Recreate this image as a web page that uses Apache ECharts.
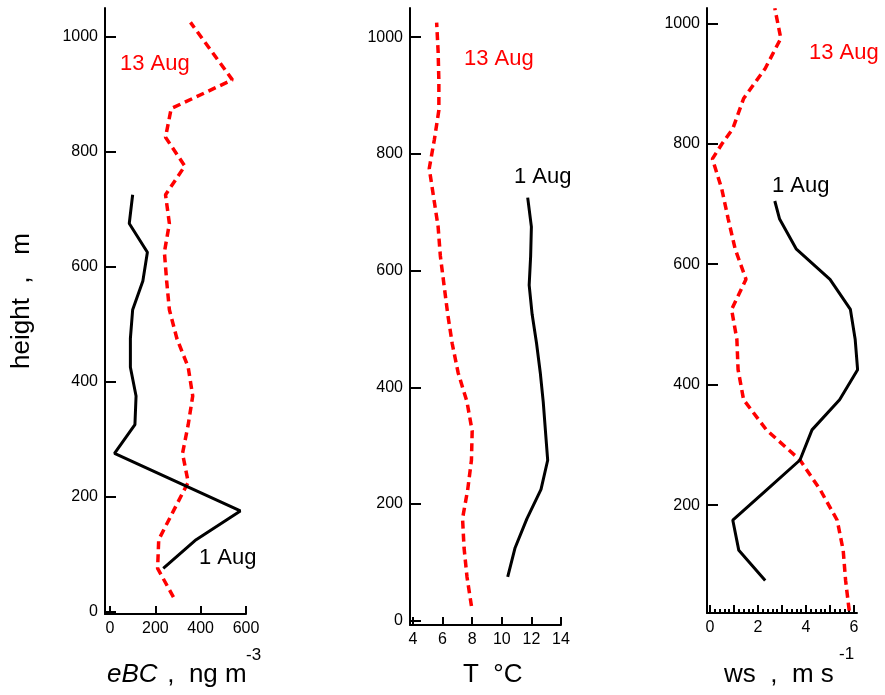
<!DOCTYPE html>
<html>
<head>
<meta charset="utf-8">
<script src="https://cdn.jsdelivr.net/npm/echarts@6/dist/echarts.min.js"></script>
<style>
html,body{margin:0;padding:0;background:#fff;}
#chart{width:885px;height:695px;}
</style>
</head>
<body>
<div id="chart"></div>
<script>
// ---- data ----
const heightTicks = [0, 200, 400, 600, 800, 1000];
const heightTicksWs = [200, 400, 600, 800, 1000];
const ebcTicks = [0, 200, 400, 600];
const tTicks = [4, 6, 8, 10, 12, 14];
const wsLabelTicks = [0, 2, 4, 6];
const wsMajorTicks = [0, 1, 2, 3, 4, 5, 6];
const wsMinorTicks = [0.2,0.4,0.6,0.8,1.2,1.4,1.6,1.8,2.2,2.4,2.6,2.8,3.2,3.4,3.6,3.8,4.2,4.4,4.6,4.8,5.2,5.4,5.6,5.8];

// eBC, ng m-3
const hEbcAug1 = [75,125,175,275,325,375,425,475,525,575,625,675,725];
const ebcAug1  = [235,380,575,20,110,115,90,90,100,145,165,85,100];
const hEbcAug13 = [25,75,125,175,225,275,325,375,425,475,525,575,625,675,725,775,825,875,925,1025];
const ebcAug13  = [280,210,215,280,345,320,345,365,345,295,262,250,240,262,245,330,245,270,540,355];

// T, °C
const hTAug1 = [75,125,175,225,275,325,375,425,475,525,575,625,675,725];
const tAug1  = [10.4,10.9,11.7,12.65,13.1,12.95,12.8,12.6,12.35,12.05,11.85,11.95,12.0,11.75];
const hTAug13 = [25,75,125,175,225,275,325,375,425,475,525,575,625,675,725,775,825,875,925,975,1025];
const tAug13  = [7.95,7.65,7.45,7.35,7.7,7.95,8.0,7.65,7.05,6.65,6.35,6.1,5.85,5.7,5.4,5.1,5.45,5.75,5.75,5.7,5.6];

// ws, m s-1
const hWsAug1 = [75,125,175,225,275,325,375,425,475,525,575,625,675,705];
const wsAug1  = [2.3,1.2,0.95,2.35,3.75,4.25,5.4,6.15,6.05,5.85,5.0,3.6,2.9,2.7];
const hWsAug13 = [25,75,125,175,225,275,325,375,425,475,525,575,625,675,725,775,800,825,875,925,975,1025];
const wsAug13  = [5.8,5.65,5.55,5.3,4.6,3.75,2.35,1.4,1.17,1.12,0.9,1.5,1.05,0.76,0.49,0.1,0.5,0.95,1.4,2.3,2.95,2.7];

// ---- chart ----
const FONT = 'Liberation Sans';
const pairs = (xs, hs) => xs.map((v, i) => [v, hs[i]]);
const plain = v => String(v);

function yAxis(gi, min, max, ticks) {
  return {
    type: 'value', gridIndex: gi, min: min, max: max,
    axisLine: {show: true, onZero: false, lineStyle: {color: '#000', width: 2}},
    axisTick: {show: true, inside: true, length: 11, customValues: ticks, lineStyle: {color: '#000', width: 2}},
    axisLabel: {show: true, customValues: ticks, formatter: plain, margin: 7, color: '#000', fontFamily: FONT, fontSize: 16},
    splitLine: {show: false}
  };
}
function xAxis(gi, min, max, ticks, labels, len) {
  return {
    type: 'value', gridIndex: gi, min: min, max: max, position: 'bottom',
    axisLine: {show: true, onZero: false, lineStyle: {color: '#000', width: 2}},
    axisTick: {show: true, inside: true, length: len, customValues: ticks, lineStyle: {color: '#000', width: 2}},
    axisLabel: {show: !!labels, customValues: labels || [], formatter: plain, margin: 7, color: '#000', fontFamily: FONT, fontSize: 16},
    splitLine: {show: false}
  };
}
const solid = {color: '#000', width: 3, type: 'solid'};
const dashed = {color: '#ff0000', width: 3.5, type: [8, 5]};
function line(xi, yi, data, style) {
  return {type: 'line', xAxisIndex: xi, yAxisIndex: yi, data: data, symbol: 'none', smooth: false,
          lineStyle: style, itemStyle: {color: style.color}, animation: false, silent: true, z: style.color === '#000' ? 3 : 2};
}

const opt = {
  backgroundColor: '#fff',
  animation: false,
  grid: [
    {left: 105, top: 8, width: 141, height: 606},
    {left: 410, top: 8, width: 151, height: 617},
    {left: 707, top: 8, width: 150, height: 605}
  ],
  xAxis: [
    xAxis(0, -22, 600, ebcTicks, ebcTicks, 8),
    xAxis(1, 3.8, 14, tTicks, tTicks, 8),
    xAxis(2, -0.125, 6.125, wsMajorTicks, wsLabelTicks, 8),
    Object.assign(xAxis(2, -0.125, 6.125, wsMinorTicks, null, 4), {axisLine: {show: false, onZero: false}})
  ],
  yAxis: [
    yAxis(0, -4.35, 1050, heightTicks),
    yAxis(1, -7.4, 1050, heightTicks),
    yAxis(2, 21, 1025.4, heightTicksWs)
  ],
  series: [
    line(0, 0, pairs(ebcAug13, hEbcAug13), dashed),
    line(0, 0, pairs(ebcAug1, hEbcAug1), solid),
    line(1, 1, pairs(tAug13, hTAug13), dashed),
    line(1, 1, pairs(tAug1, hTAug1), solid),
    line(2, 2, pairs(wsAug13, hWsAug13), dashed),
    line(2, 2, pairs(wsAug1, hWsAug1), solid)
  ],
  graphic: [
    // annotations
    {type: 'text', left: 120, top: 53, style: {text: '13 Aug', fill: '#ff0000', font: '22px "Liberation Sans"'}},
    {type: 'text', left: 199, top: 547, style: {text: '1 Aug', fill: '#000', font: '22px "Liberation Sans"'}},
    {type: 'text', left: 464, top: 48, style: {text: '13 Aug', fill: '#ff0000', font: '22px "Liberation Sans"'}},
    {type: 'text', left: 514, top: 166, style: {text: '1 Aug', fill: '#000', font: '22px "Liberation Sans"'}},
    {type: 'text', left: 809, top: 42, style: {text: '13 Aug', fill: '#ff0000', font: '22px "Liberation Sans"'}},
    {type: 'text', left: 772, top: 175, style: {text: '1 Aug', fill: '#000', font: '22px "Liberation Sans"'}},
    // axis titles
    {type: 'text', left: 107, top: 662, style: {text: 'eBC', fill: '#000', font: 'italic 26px "Liberation Sans"'}},
    {type: 'text', left: 160, top: 662, style: {text: ' ,  ng m', fill: '#000', font: '26px "Liberation Sans"'}},
    {type: 'text', left: 246, top: 647, style: {text: '-3', fill: '#000', font: '17px "Liberation Sans"'}},
    {type: 'text', left: 463, top: 662, style: {text: 'T  \u00B0C', fill: '#000', font: '26px "Liberation Sans"'}},
    {type: 'text', left: 724, top: 662, style: {text: 'ws  ,  m s', fill: '#000', font: '26px "Liberation Sans"'}},
    {type: 'text', left: 839, top: 646, style: {text: '-1', fill: '#000', font: '17px "Liberation Sans"'}},
    {type: 'text', x: 22, y: 301, rotation: Math.PI / 2,
     style: {text: 'height  ,   m', fill: '#000', font: '26px "Liberation Sans"', align: 'center', verticalAlign: 'middle'}}
  ]
};
const chart = echarts.init(document.getElementById('chart'), null, {renderer: 'canvas'});
chart.setOption(opt);
</script>
</body>
</html>
